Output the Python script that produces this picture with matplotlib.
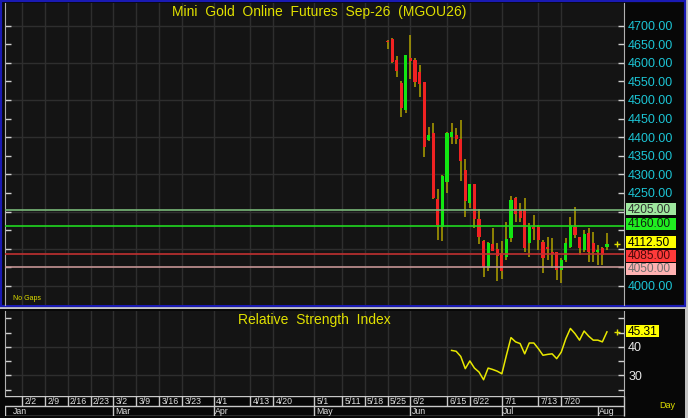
import matplotlib
matplotlib.use("Agg")
import matplotlib.pyplot as plt
from matplotlib.patches import Rectangle
from matplotlib.transforms import IdentityTransform

plt.rcParams['font.family'] = ['Liberation Sans', 'DejaVu Sans']

W, H = 688, 418

# trading-day index (0 = 2/2) of each daily bar
days = list(range(80, 129))
opens = [4658, 4663, 4607, 4545, 4473, 4614, 4607, 4576, 4548, 4392,
         4412, 4233, 4158, 4280, 4401, 4406, 4394, 4312, 4222, 4273,
         4180, 4121, 4049, 4112, 4099, 4090, 4078, 4128, 4236, 4204,
         4204, 4115, 4159, 4159, 4119, 4106, 4091, 4092, 4043, 4070,
         4106, 4159, 4133, 4097, 4142, 4115, 4092, 4101, 4105]
highs = [4660, 4667, 4618, 4552, 4621, 4675, 4614, 4594, 4548, 4427,
         4437, 4260, 4298, 4415, 4437, 4424, 4446, 4341, 4274, 4273,
         4207, 4124, 4119, 4157, 4115, 4122, 4173, 4242, 4240, 4222,
         4236, 4169, 4191, 4164, 4124, 4132, 4129, 4092, 4075, 4128,
         4186, 4213, 4133, 4151, 4155, 4146, 4110, 4106, 4142]
lows = [4636, 4600, 4561, 4453, 4464, 4556, 4536, 4507, 4348, 4391,
        4233, 4124, 4122, 4249, 4382, 4382, 4283, 4186, 4209, 4155,
        4112, 4023, 4041, 4095, 4014, 4018, 4070, 4117, 4171, 4171,
        4092, 4077, 4124, 4097, 4035, 4070, 4048, 4016, 4007, 4065,
        4101, 4128, 4083, 4091, 4065, 4064, 4056, 4056, 4097]
closes = [4655, 4603, 4578, 4478, 4621, 4606, 4548, 4543, 4374, 4406,
          4236, 4164, 4296, 4412, 4413, 4394, 4337, 4228, 4273, 4179,
          4133, 4052, 4115, 4095, 4081, 4040, 4126, 4231, 4194, 4182,
          4101, 4159, 4153, 4124, 4074, 4100, 4086, 4043, 4070, 4115,
          4164, 4137, 4101, 4139, 4092, 4091, 4097, 4083, 4112.5]

rsi_days = list(range(94, 129))
rsi = [38.8, 38.5, 36.7, 32.4, 35.1, 32.6, 31.2, 28.5, 32.6, 32.1,
       31.5, 30.6, 37.1, 43.3, 41.8, 41.2, 37.6, 41.4, 41.4, 39.4,
       37.1, 37.4, 37.6, 35.9, 38.2, 42.9, 46.5, 44.7, 42.4, 45.6,
       43.8, 42.4, 42.4, 41.8, 45.31]

levels = [4205, 4160, 4085, 4050]
level_line = ['#78b878', '#20d820', '#c03030', '#c49494']
level_box = ['#9ee89e', '#20ee20', '#ff3a3a', '#ffb2b2']
level_txt = ['#303030', '#102010', '#4a0a0a', '#707070']
level_nudge = [0, 2, -2, -2]      # pixels, so the tags do not collide
last_price = 4112.50

week_days = [0, 5, 10, 15, 20, 25, 30, 35, 42, 50, 55, 64, 70, 75, 80, 85, 93, 98, 105, 113, 118]
week_labels = ['2/2', '2/9', '2/16', '2/23', '3/2', '3/9', '3/16', '3/23', '4/1', '4/13', '4/20',
               '5/1', '5/11', '5/18', '5/25', '6/2', '6/15', '6/22', '7/1', '7/13', '7/20']
month_days = [-3.72, 20, 42, 64, 85, 105, 126]
month_labels = ['Jan', 'Mar', 'Apr', 'May', 'Jun', 'Jul', 'Aug']

# price ticks; the ones sitting under the level tags get no label
price_ticks = list(range(4000, 4750, 50))
hidden = [4050, 4100, 4150, 4200]

title = 'Mini  Gold  Online  Futures  Sep-26  (MGOU26)'
XLIM = (-3.72, 131.73)
YEL = '#e0e000'
CYAN = '#1cc4d4'
GRID = '#2e2e2e'


def frame(x0, y0, x1, y1):
    return [x0 / W, 1 - y1 / H, (x1 - x0) / W, (y1 - y0) / H]


fig = plt.figure(figsize=(W / 100, H / 100), dpi=100, facecolor='#c4c4c4')
fig.add_artist(Rectangle((1 / W, 1 - 306 / H), 684 / W, 305 / H, transform=fig.transFigure,
                         facecolor='#070707', edgecolor='#1a1ab4', lw=1.6, zorder=-5))
fig.add_artist(Rectangle((0, 0), 685 / W, 1 - 309 / H, transform=fig.transFigure,
                         facecolor='#070707', edgecolor='none', zorder=-5))


def tag(axis, value, text, fc, tc, width, nudge=0):
    # coloured value box on the right scale
    x0, yc = axis.transData.transform((XLIM[1], value))
    yc += nudge
    fig.add_artist(Rectangle((x0 + 2, yc - 5.6), width, 12.4, transform=IdentityTransform(),
                             facecolor=fc, edgecolor='none', zorder=6))
    fig.text(x0 + 3.5, yc, text, transform=IdentityTransform(), fontsize=8.6, color=tc,
             ha='left', va='center', zorder=7)


# ---- price panel
ax = fig.add_axes(frame(5, 3, 624, 305), facecolor='#141414')
ax.set_xlim(*XLIM)
ax.set_ylim(3948.9, 4760.7)
for d in week_days:
    ax.axvline(d, color=GRID, lw=1, zorder=0)
for p in range(4000, 4800, 100):
    ax.axhline(p, color=GRID, lw=1, zorder=0)

for d, o, h, l, c in zip(days, opens, highs, lows, closes):
    ax.vlines(d, l, h, color='#b0a200', lw=1.1, zorder=2)
    col = '#12e612' if c >= o else '#f02222'
    ax.bar(d, max(abs(c - o), 2.5), bottom=min(o, c), width=0.68, color=col, zorder=3)

for lv, lc, bc, tc, nd in zip(levels, level_line, level_box, level_txt, level_nudge):
    ax.axhline(lv, color=lc, lw=1.2, zorder=4)
    tag(ax, lv, f'{lv:.2f}', bc, tc, 50, nd)
tag(ax, last_price, f'{last_price:.2f}', '#ffff00', '#000000', 50, 1.5)
ax.plot([130.2], [last_price], marker='+', ms=4, color=YEL, mew=1, clip_on=False, zorder=5)

ax.set_yticks(price_ticks)
ax.set_yticklabels(['' if t in hidden else f'{t:.2f}' for t in price_ticks])
ax.tick_params(axis='y', left=True, right=True, labelleft=False, labelright=True, direction='in',
               length=4, width=1, color='#d0d0d0', labelcolor=CYAN, labelsize=9, pad=3)
ax.set_xticks([])
for s in ['top', 'bottom']:
    ax.spines[s].set_visible(False)
for s in ['left', 'right']:
    ax.spines[s].set_color('#b0b0b0')

ax.text(0.507, 0.970, title, transform=ax.transAxes, ha='center', va='center', fontsize=10, color=YEL)
ax.text(0.013, 0.023, 'No Gaps', transform=ax.transAxes, ha='left', va='center', fontsize=5, color=YEL)

# ---- RSI panel
ax2 = fig.add_axes(frame(5, 311, 624, 396), facecolor='#141414')
ax2.set_xlim(*XLIM)
ax2.set_ylim(22.8, 52.63)
for d in week_days:
    ax2.axvline(d, color=GRID, lw=1, zorder=0)
for r in [30, 40]:
    ax2.axhline(r, color=GRID, lw=1, zorder=0)
ax2.plot(rsi_days, rsi, color='#e8e800', lw=1.1, zorder=3)
ax2.plot([130.2], [rsi[-1]], marker='+', ms=4, color=YEL, mew=1, clip_on=False, zorder=5)
tag(ax2, rsi[-1], f'{rsi[-1]:.2f}', '#ffff00', '#000000', 33)
ax2.set_yticks([25, 30, 35, 40, 45, 50])
ax2.set_yticklabels(['', '30', '', '40', '', ''])
ax2.tick_params(axis='y', left=True, right=True, labelleft=False, labelright=True, direction='in',
                length=4, width=1, color='#d0d0d0', labelcolor='#e8e8e8', labelsize=9, pad=3)
ax2.set_xticks([])
for s in ['top', 'bottom']:
    ax2.spines[s].set_visible(False)
for s in ['left', 'right']:
    ax2.spines[s].set_color('#b0b0b0')
ax2.text(0.499, 0.894, 'Relative  Strength  Index', transform=ax2.transAxes, ha='center', va='center',
         fontsize=10, color=YEL)

# ---- date rows
ax3 = fig.add_axes(frame(5, 396, 624, 416), facecolor='#0a0a0a')
ax3.set_xlim(*XLIM)
ax3.set_ylim(0, 2)
ax3.axis('off')
for yy in [0, 1, 2]:
    ax3.axhline(yy, color='#c8c8c8', lw=1)
for d, lab in zip(week_days, week_labels):
    ax3.vlines(d, 1, 2, color='#c8c8c8', lw=1)
    ax3.text(d + 0.5, 1.45, lab, fontsize=6.3, color='#e0e0e0', ha='left', va='center')
for d, lab in zip(month_days, month_labels):
    ax3.vlines(d, 0, 1, color='#c8c8c8', lw=1)
    off = 1.8 if lab == 'Jan' else 0.3
    ax3.text(d + off, 0.45, lab, fontsize=6.3, color='#e0e0e0', ha='left', va='center')
ax3.vlines(XLIM[1], 0, 2, color='#c8c8c8', lw=1, clip_on=False)
fig.text(667 / W, 1 - 406 / H, 'Day', fontsize=6.5, color=YEL, ha='center', va='center')

fig.savefig('out.png', dpi=100, facecolor=fig.get_facecolor())
